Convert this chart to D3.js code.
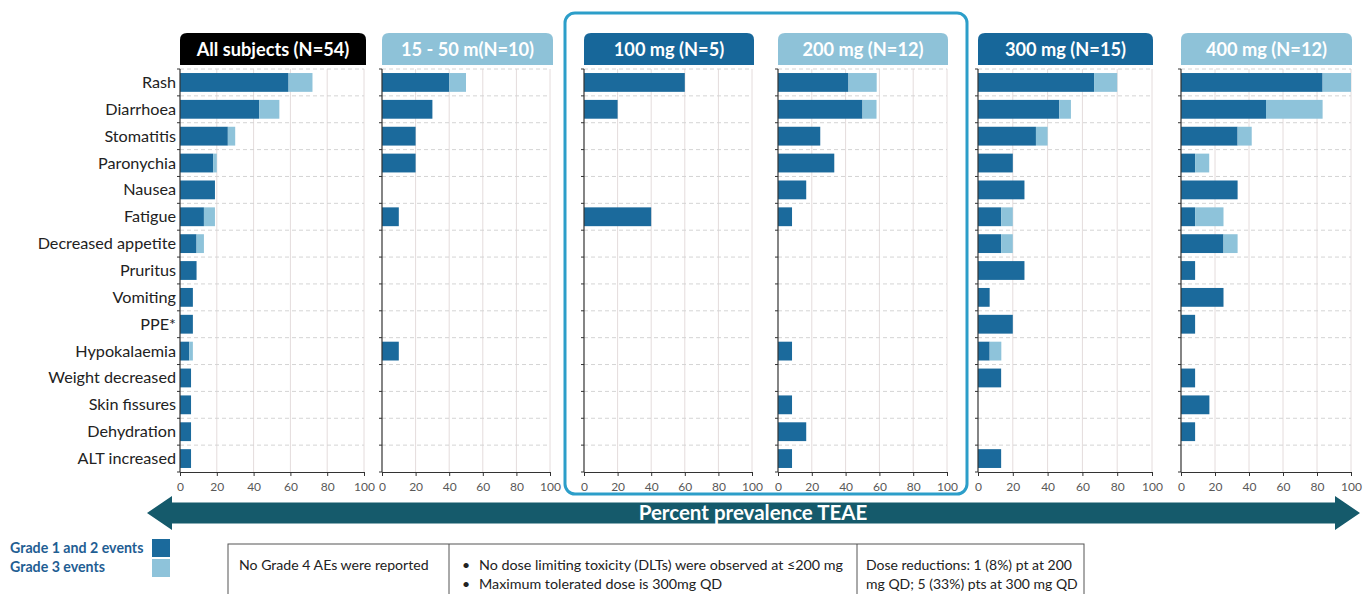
<!DOCTYPE html>
<html>
<head>
<meta charset="utf-8">
<script src="https://cdn.jsdelivr.net/npm/d3@7"></script>
<style>
  html, body { margin: 0; padding: 0; background: #fff; }
  svg { display: block; font-family: Lato, "Open Sans", sans-serif; }
</style>
</head>
<body>
<svg id="chart" width="1369" height="594"></svg>
<script>
// ---------------- DATA ----------------
const categories = ["Rash", "Diarrhoea", "Stomatitis", "Paronychia", "Nausea", "Fatigue",
  "Decreased appetite", "Pruritus", "Vomiting", "PPE*", "Hypokalaemia", "Weight decreased",
  "Skin fissures", "Dehydration", "ALT increased"];

const panelTitles = ["All subjects (N=54)", "15 - 50 m(N=10)", "100 mg (N=5)",
  "200 mg (N=12)", "300 mg (N=15)", "400 mg (N=12)"];

const xTicks = [0, 20, 40, 60, 80, 100];

// Grade 1 and 2 events (%)
const allGrade12   = [59, 43, 26, 18, 19, 13, 9, 9, 7, 7, 5, 6, 6, 6, 6];
const g15Grade12   = [40, 30, 20, 20, 0, 10, 0, 0, 0, 0, 10, 0, 0, 0, 0];
const g100Grade12  = [60, 20, 0, 0, 0, 40, 0, 0, 0, 0, 0, 0, 0, 0, 0];
const g200Grade12  = [41.7, 50, 25, 33.3, 16.7, 8.3, 0, 0, 0, 0, 8.3, 0, 8.3, 16.7, 8.3];
const g300Grade12  = [66.7, 46.7, 33.3, 20, 26.7, 13.3, 13.3, 26.7, 6.7, 20, 6.7, 13.3, 0, 0, 13.3];
const g400Grade12  = [83.3, 50, 33.3, 8.3, 33.3, 8.3, 25, 8.3, 25, 8.3, 0, 8.3, 16.7, 8.3, 0];

// Grade 3 events (%) stacked on top of grade 1-2
const allGrade3    = [13, 11, 4, 2, 0, 6, 4, 0, 0, 0, 2, 0, 0, 0, 0];
const g15Grade3    = [10, 0, 0, 0, 0, 0, 0, 0, 0, 0, 0, 0, 0, 0, 0];
const g100Grade3   = [0, 0, 0, 0, 0, 0, 0, 0, 0, 0, 0, 0, 0, 0, 0];
const g200Grade3   = [16.7, 8.3, 0, 0, 0, 0, 0, 0, 0, 0, 0, 0, 0, 0, 0];
const g300Grade3   = [13.3, 6.7, 6.7, 0, 0, 6.7, 6.7, 0, 0, 0, 6.7, 0, 0, 0, 0];
const g400Grade3   = [16.7, 33.3, 8.3, 8.3, 0, 16.7, 8.3, 0, 0, 0, 0, 0, 0, 0, 0];

const legendLabels = ["Grade 1 and 2 events", "Grade 3 events"];
const arrowLabel = "Percent prevalence TEAE";
const noteLeft = "No Grade 4 AEs were reported";
const noteMiddle = ["No dose limiting toxicity (DLTs) were observed at \u2264200 mg",
                    "Maximum tolerated dose is 300mg QD"];
const noteRight = ["Dose reductions: 1 (8%) pt at 200", "mg QD; 5 (33%) pts at 300 mg QD"];

// ---------------- STYLE / LAYOUT ----------------
const C_DARK = "#1b6a9c";
const C_LIGHT = "#8ec3da";
const C_HEAD_DARK = "#17679a";
const C_HEAD_LIGHT = "#8ec2d8";
const C_ARROW = "#155a6b";

const panelGeom = [
  { x0: 180, x1: 364, head: "#000000", hx0: 180, hx1: 366 },
  { x0: 382, x1: 550, head: C_HEAD_LIGHT, hx0: 382, hx1: 553 },
  { x0: 584, x1: 752, head: C_HEAD_DARK, hx0: 584, hx1: 754 },
  { x0: 778, x1: 947, head: C_HEAD_LIGHT, hx0: 778, hx1: 948 },
  { x0: 978, x1: 1152, head: C_HEAD_DARK, hx0: 978, hx1: 1153 },
  { x0: 1181, x1: 1351, head: C_HEAD_LIGHT, hx0: 1181, hx1: 1352 }
];
const grade12 = [allGrade12, g15Grade12, g100Grade12, g200Grade12, g300Grade12, g400Grade12];
const grade3 = [allGrade3, g15Grade3, g100Grade3, g200Grade3, g300Grade3, g400Grade3];

const plotTop = 69, plotBottom = 472;
const headTop = 33, headBottom = 65;

const svg = d3.select("#chart");

const y = d3.scaleBand().domain(categories).range([plotTop, plotBottom])
  .paddingInner(0.3).paddingOuter(0.15);
const step = y.step();
const boundaries = d3.range(categories.length + 1).map(i => plotTop + i * step);

// highlight box (100 & 200 mg)
svg.append("rect")
  .attr("x", 565).attr("y", 13).attr("width", 402).attr("height", 481)
  .attr("rx", 10).attr("ry", 10)
  .attr("fill", "none").attr("stroke", "#2c9ec9").attr("stroke-width", 3);

function topRoundedRect(x, yy, w, h, r) {
  return `M${x},${yy + h} V${yy + r} Q${x},${yy} ${x + r},${yy} H${x + w - r} Q${x + w},${yy} ${x + w},${yy + r} V${yy + h} Z`;
}

panelGeom.forEach((p, pi) => {
  const x = d3.scaleLinear().domain([0, 100]).range([p.x0, p.x1]);
  const g = svg.append("g");

  // header
  g.append("path")
    .attr("d", topRoundedRect(p.hx0, headTop, p.hx1 - p.hx0, headBottom - headTop, 7))
    .attr("fill", p.head);
  g.append("text")
    .attr("x", (p.hx0 + p.hx1) / 2).attr("y", (headTop + headBottom) / 2 + 6.5)
    .attr("text-anchor", "middle").attr("fill", "#fff")
    .attr("font-size", 18.2).attr("font-weight", 700)
    .text(panelTitles[pi]);

  // vertical grid lines
  g.selectAll(".vg").data(xTicks.slice(1)).enter().append("line")
    .attr("x1", d => x(d)).attr("x2", d => x(d))
    .attr("y1", plotTop).attr("y2", plotBottom)
    .attr("stroke", "#e4dcdc").attr("stroke-width", 1);

  // horizontal dashed grid lines
  g.selectAll(".hg").data(boundaries.slice(0, -1)).enter().append("line")
    .attr("x1", p.x0).attr("x2", p.x1)
    .attr("y1", d => d).attr("y2", d => d)
    .attr("stroke", "#d4d4d4").attr("stroke-width", 1)
    .attr("stroke-dasharray", "4,3");

  // bars: grade 1-2
  g.selectAll(".b12").data(categories).enter().append("rect")
    .attr("x", x(0)).attr("y", d => y(d))
    .attr("width", (d, i) => x(grade12[pi][i]) - x(0))
    .attr("height", y.bandwidth())
    .attr("fill", C_DARK);
  // bars: grade 3
  g.selectAll(".b3").data(categories).enter().append("rect")
    .attr("x", (d, i) => x(grade12[pi][i])).attr("y", d => y(d))
    .attr("width", (d, i) => x(grade12[pi][i] + grade3[pi][i]) - x(grade12[pi][i]))
    .attr("height", y.bandwidth())
    .attr("fill", C_LIGHT);

  // y axis line with ticks at band boundaries
  g.append("line")
    .attr("x1", p.x0).attr("x2", p.x0).attr("y1", plotTop).attr("y2", plotBottom)
    .attr("stroke", "#333").attr("stroke-width", 1.2);
  g.selectAll(".yt").data(boundaries).enter().append("line")
    .attr("x1", p.x0 - 3).attr("x2", p.x0).attr("y1", d => d).attr("y2", d => d)
    .attr("stroke", "#333").attr("stroke-width", 1);

  // x axis
  const xAxis = d3.axisBottom(x).tickValues(xTicks).tickSize(4).tickSizeOuter(0).tickPadding(6);
  const ax = g.append("g").attr("transform", `translate(0,${plotBottom})`).call(xAxis);
  ax.select(".domain").attr("stroke", "#333").attr("stroke-width", 1.2);
  ax.selectAll(".tick line").attr("stroke", "#333");
  ax.selectAll(".tick text").attr("fill", "#595959").attr("font-size", 12)
    .attr("font-family", "Lato, 'Open Sans', sans-serif");

  // category labels for first panel
  if (pi === 0) {
    g.selectAll(".cl").data(categories).enter().append("text")
      .attr("x", p.x0 - 4).attr("y", d => y(d) + y.bandwidth() / 2 + 5.5)
      .attr("text-anchor", "end").attr("fill", "#222").attr("font-size", 16.2)
      .text(d => d);
  }
});

// double arrow
(function () {
  const xl = 147, xr = 1360, yc = 513, bh = 10.5, hh = 17, hl = 25;
  const d = `M${xl},${yc} L${xl + hl},${yc - hh} L${xl + hl},${yc - bh} L${xr - hl},${yc - bh} L${xr - hl},${yc - hh} L${xr},${yc} L${xr - hl},${yc + hh} L${xr - hl},${yc + bh} L${xl + hl},${yc + bh} L${xl + hl},${yc + hh} Z`;
  svg.append("path").attr("d", d).attr("fill", C_ARROW);
  svg.append("text").attr("x", 753).attr("y", yc + 7).attr("text-anchor", "middle")
    .attr("fill", "#fff").attr("font-size", 20.5).attr("font-weight", 700).text(arrowLabel);
})();

// legend
[C_DARK, C_LIGHT].forEach((c, i) => {
  svg.append("rect").attr("x", 152).attr("y", 539 + i * 20).attr("width", 18).attr("height", 18)
    .attr("fill", c);
  svg.append("text").attr("x", 10).attr("y", 553 + i * 19)
    .attr("fill", "#1f5e93").attr("font-size", 14.2).attr("font-weight", 700)
    .text(legendLabels[i]);
});

// notes table
const tbl = svg.append("g");
tbl.append("rect").attr("x", 228).attr("y", 544).attr("width", 856).attr("height", 60)
  .attr("fill", "none").attr("stroke", "#555").attr("stroke-width", 1);
[449, 857].forEach(xx => tbl.append("line").attr("x1", xx).attr("x2", xx)
  .attr("y1", 544).attr("y2", 600).attr("stroke", "#555").attr("stroke-width", 1));
tbl.append("text").attr("x", 239).attr("y", 570).attr("font-size", 14.1).attr("fill", "#222")
  .text(noteLeft);
noteMiddle.forEach((t, i) => {
  tbl.append("text").attr("x", 462).attr("y", 570 + i * 18.5).attr("font-size", 14).attr("fill", "#222").text("\u2022");
  tbl.append("text").attr("x", 479).attr("y", 570 + i * 18.5).attr("font-size", 14.3).attr("fill", "#222").text(t);
});
noteRight.forEach((t, i) => {
  tbl.append("text").attr("x", 866).attr("y", 570 + i * 18.5).attr("font-size", 14).attr("fill", "#222").text(t);
});
</script>
</body>
</html>
